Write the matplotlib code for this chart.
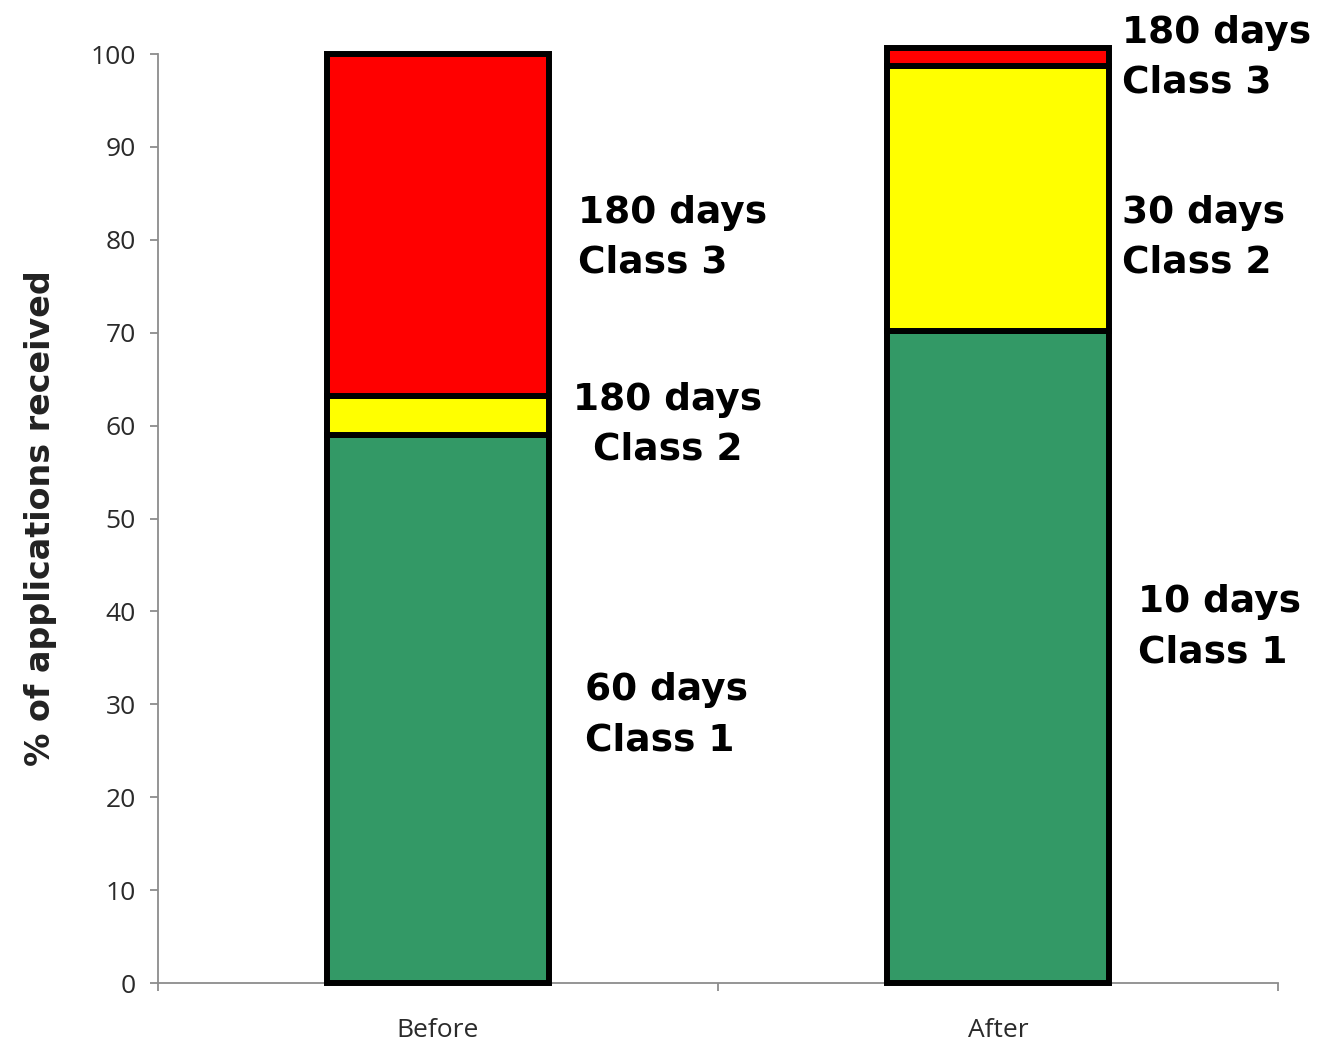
import matplotlib.pyplot as plt

# bar data (% of applications received)
groups = ['Before', 'After']
class1 = [59.0, 70.2]   # green
class2 = [4.2, 28.5]    # yellow
class3 = [36.8, 2.0]    # red

# label text for each segment
labels_before = ['60 days\nClass 1', '180 days\nClass 2', '180 days\nClass 3']
labels_after = ['10 days\nClass 1', '30 days\nClass 2', '180 days\nClass 3']

fig = plt.figure(figsize=(13.36, 10.43), dpi=100)
ax = fig.add_axes([0.1183, 0.0575, 0.8383, 0.8907])

x = [0, 1]
w = 0.395
b2 = [a for a in class1]
b3 = [a + b for a, b in zip(class1, class2)]
ax.bar(x, class1, width=w, color='#339966', edgecolor='black', linewidth=4.3, clip_on=False, zorder=3)
ax.bar(x, class2, width=w, bottom=b2, color='#FFFF00', edgecolor='black', linewidth=4.3, clip_on=False, zorder=3)
ax.bar(x, class3, width=w, bottom=b3, color='#FF0000', edgecolor='black', linewidth=4.3, clip_on=False, zorder=3)

ax.set_xlim(-0.5, 1.5)
ax.set_ylim(0, 100)
ax.set_yticks(range(0, 101, 10))

for s in ['top', 'right']:
    ax.spines[s].set_visible(False)
for s in ['left', 'bottom']:
    ax.spines[s].set_color('#8c8c8c')
    ax.spines[s].set_linewidth(1.3)

ax.tick_params(axis='y', direction='out', length=6, width=1.3, color='#8c8c8c',
               labelsize=19, labelcolor='#2a2a2a', pad=10)
for t in ax.get_yticklabels():
    t.set_fontfamily('Open Sans')

# category boundaries as major ticks, names as minor ticks
ax.set_xticks([-0.5, 0.5, 1.5])
ax.set_xticklabels(['', '', ''])
ax.tick_params(axis='x', which='major', direction='out', length=6, width=1.3, color='#8c8c8c')
ax.set_xticks(x, minor=True)
ax.set_xticklabels(groups, minor=True, fontsize=19, color='#2a2a2a', fontfamily='Open Sans')
ax.tick_params(axis='x', which='minor', length=0, pad=25)

ax.set_ylabel('% of applications received', fontsize=24, fontweight='bold', color='#222222', labelpad=24)

kw = dict(fontsize=27, fontweight='bold', va='center', linespacing=1.5, color='black')
ax.text(0.262, 28.8, labels_before[0], ha='left', **kw)
ax.text(0.41, 60.1, labels_before[1], ha='center', multialignment='center', **kw)
ax.text(0.25, 80.2, labels_before[2], ha='left', **kw)
ax.text(1.25, 38.3, labels_after[0], ha='left', **kw)
ax.text(1.222, 80.2, labels_after[1], ha='left', **kw)
ax.text(1.222, 99.6, labels_after[2], ha='left', clip_on=False, **kw)

fig.savefig('out.png', dpi=100)
